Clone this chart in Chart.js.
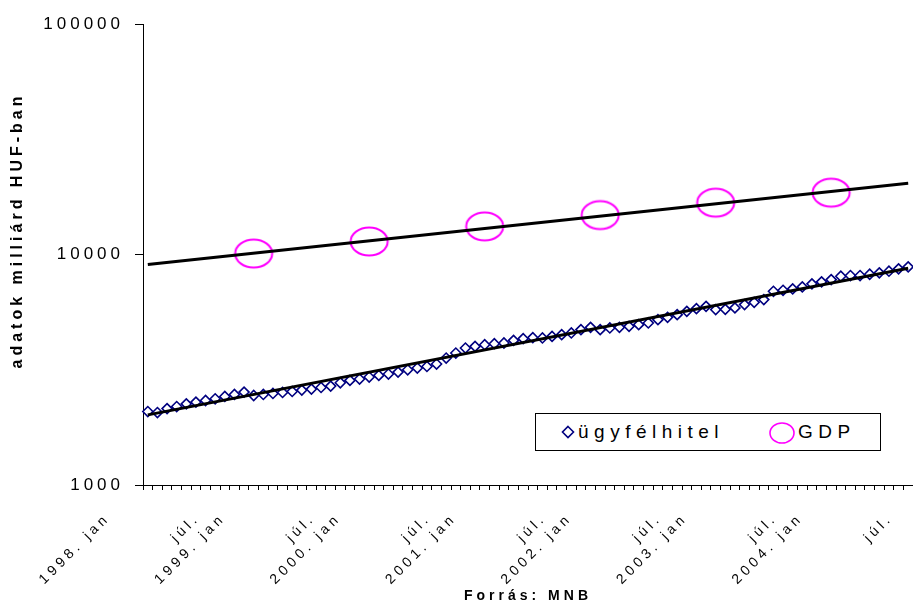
<!DOCTYPE html>
<html>
<head>
<meta charset="utf-8">
<script src="https://cdn.jsdelivr.net/npm/chart.js@4.4.0/dist/chart.umd.min.js"></script>
<style>
  html, body { margin: 0; padding: 0; background: #fff; }
  #wrap { position: relative; width: 913px; height: 603px; }
  #legend {
    position: absolute; left: 535px; top: 413px; width: 346px; height: 38px;
    box-sizing: border-box; border: 1px solid #000; background: #fff;
    font-family: "Liberation Sans", Arial, sans-serif; font-size: 19px; letter-spacing: 5.5px;
  }
  #legend span { position: absolute; top: 0; line-height: 36px; white-space: nowrap; }
  #legend svg { position: absolute; }
</style>
</head>
<body>
<div id="wrap">
  <canvas id="chart" width="913" height="603"></canvas>
  <div id="legend">
    <svg style="left:25px;top:11px" width="14" height="14"><path d="M7 1.5 L12.5 7 L7 12.5 L1.5 7 Z" fill="#fff" stroke="#000080" stroke-width="1.6"/></svg>
    <span style="left:42px">ügyfélhitel</span>
    <svg style="left:232px;top:7px" width="28" height="24"><ellipse cx="14" cy="12" rx="12" ry="10" fill="none" stroke="#ff00ff" stroke-width="1.6"/></svg>
    <span style="left:262px">GDP</span>
  </div>
</div>
<script>
// months from 1998. jan to 2004. aug
const years = [1998, 1999, 2000, 2001, 2002, 2003, 2004];
const monthNames = ['jan', 'febr.', 'márc.', 'ápr.', 'máj.', 'jún.', 'júl.', 'aug.', 'szept.', 'okt.', 'nov.', 'dec.'];
const categories = years.flatMap(y => monthNames.map(m => y + '. ' + m)).slice(0, 80);

// ügyfélhitel, milliárd HUF (havi)
const creditValues = [
  2083, 2062, 2146, 2190, 2250, 2289, 2326, 2366, 2421, 2470,
  2530, 2445, 2470, 2495, 2520, 2545, 2581, 2607, 2649, 2686,
  2777, 2842, 2882, 2940, 2988, 3030, 3090, 3162, 3217, 3268,
  3348, 3555, 3738, 3929, 3993, 4061, 4102, 4131, 4240, 4313,
  4356, 4343, 4413, 4489, 4566, 4720, 4830, 4720, 4801, 4830,
  4879, 4963, 5047, 5216, 5338, 5483, 5668, 5823, 5958, 5766,
  5783, 5865, 6061, 6202, 6372, 6924, 6994, 7093, 7236, 7457,
  7608, 7785, 8047, 8103, 8103, 8209, 8325, 8460, 8665, 8841
];

// GDP (éves), december helyen
const gdpDates = ['1998. dec.', '1999. dec.', '2000. dec.', '2001. dec.', '2002. dec.', '2003. dec.'];
const gdpValues = [10100, 11390, 13240, 14820, 16780, 18550];

// exponenciális trendvonalak végpontjai
const trendDates = ['1998. jan', '2004. aug.'];
const creditTrend = [2015, 8716];
const gdpTrend = [9048, 20380];

const yTicks = [1000, 10000, 100000];

const FONT = '"Liberation Sans", Arial, sans-serif';
Chart.defaults.font.family = FONT;
Chart.defaults.color = '#000';

// hollow ellipse marker for GDP
const ellipse = document.createElement('canvas');
ellipse.width = 42; ellipse.height = 33;
const ec = ellipse.getContext('2d');
ec.strokeStyle = '#ff00ff';
ec.lineWidth = 2;
ec.beginPath();
ec.ellipse(21, 16.5, 18.5, 14, 0, 0, Math.PI * 2);
ec.stroke();

const spacing = {
  id: 'spacing',
  beforeUpdate(chart) { chart.ctx.letterSpacing = '4px'; },
  beforeDraw(chart) { chart.ctx.letterSpacing = '4px'; },
  afterLayout(chart) {
    // title sits a bit above the middle of the axis
    const t = chart.scales.yt;
    t.top -= 24; t.bottom -= 24;
    // júl. labels hang below a zero-height axis; give them room to draw
    chart.scales.x2.bottom = chart.height;
  }
};

const pairs = (dates, vals) => dates.map((d, i) => ({ x: d, y: vals[i] }));

const noPad = s => { s.paddingLeft = 0; s.paddingRight = 0; };

new Chart(document.getElementById('chart'), {
  type: 'line',
  data: {
    labels: categories,
    datasets: [
      {
        label: 'ügyfélhitel',
        data: creditValues,
        showLine: false,
        pointStyle: 'rectRot',
        pointRadius: 5,
        pointBorderWidth: 1.6,
        pointBorderColor: '#000080',
        pointBackgroundColor: '#fff',
        order: 2
      },
      {
        label: 'GDP',
        data: pairs(gdpDates, gdpValues),
        showLine: false,
        pointStyle: ellipse,
        order: 2
      },
      {
        label: 'ügyfélhitel trend',
        data: pairs(trendDates, creditTrend),
        borderColor: '#000',
        borderWidth: 3,
        pointRadius: 0,
        order: 1
      },
      {
        label: 'GDP trend',
        data: pairs(trendDates, gdpTrend),
        borderColor: '#000',
        borderWidth: 3,
        pointRadius: 0,
        order: 1
      }
    ]
  },
  options: {
    responsive: false,
    animation: false,
    layout: { autoPadding: false, padding: { top: 24, right: 0, left: 0, bottom: 0 } },
    plugins: { legend: { display: false }, tooltip: { enabled: false } },
    scales: {
      x: {
        type: 'category',
        offset: true,
        weight: 0,
        afterFit: s => { s.height = 118; noPad(s); },
        border: { color: '#000', width: 1 },
        grid: { offset: true, drawOnChartArea: false, drawTicks: true, tickLength: 5, color: '#000' },
        ticks: {
          autoSkip: false, minRotation: 45, maxRotation: 45,
          padding: 20, labelOffset: -40,
          font: { size: 14 },
          callback: (v, i) => (i % 12 === 0 ? categories[i] : '')
        },
        title: { display: true, text: 'Forrás: MNB', font: { size: 14, weight: 'bold' }, padding: { top: 0, bottom: -2 } }
      },
      x2: {
        type: 'category',
        position: 'bottom',
        offset: true,
        weight: -1,
        afterFit: s => { s.height = 0; noPad(s); },
        border: { display: false },
        grid: { display: false, drawTicks: false },
        ticks: {
          autoSkip: false, minRotation: 45, maxRotation: 45,
          padding: 25, labelOffset: -8,
          font: { size: 14 },
          callback: (v, i) => (i % 12 === 6 ? 'júl.' : '')
        }
      },
      y: {
        type: 'logarithmic',
        min: 1000,
        max: 100000,
        weight: 0,
        afterFit: s => { s.width = 107; },
        afterBuildTicks: s => { s.ticks = yTicks.map(v => ({ value: v })); },
        border: { color: '#000', width: 1 },
        grid: { drawOnChartArea: false, drawTicks: true, tickLength: 8, color: '#000' },
        ticks: { padding: 11, font: { size: 17 }, callback: v => String(v) }
      },
      yt: {
        type: 'linear',
        position: 'left',
        weight: 1,
        afterFit: s => { s.width = 36; },
        border: { display: false },
        grid: { display: false },
        ticks: { display: false },
        title: { display: true, text: 'adatok milliárd HUF-ban', font: { size: 16, weight: 'bold' }, padding: { top: 8, bottom: 0 } }
      }
    }
  },
  plugins: [spacing]
});
</script>
</body>
</html>
